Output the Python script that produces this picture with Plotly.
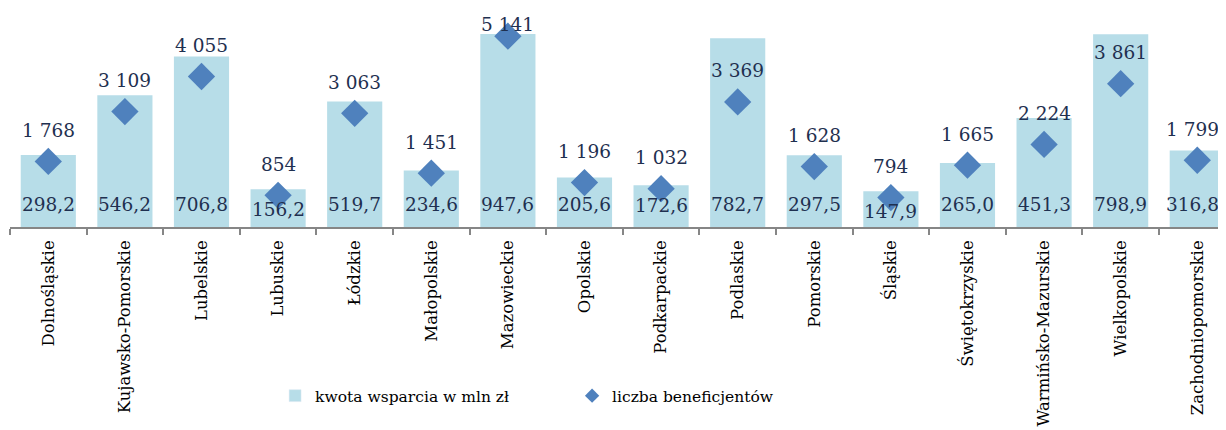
import plotly.graph_objects as go

# data
regions = ["Dolnośląskie", "Kujawsko-Pomorskie", "Lubelskie", "Lubuskie", "Łódzkie", "Małopolskie",
           "Mazowieckie", "Opolskie", "Podkarpackie", "Podlaskie", "Pomorskie", "Śląskie",
           "Świętokrzyskie", "Warmińsko-Mazurskie", "Wielkopolskie", "Zachodniopomorskie"]
kwota = [298.2, 546.2, 706.8, 156.2, 519.7, 234.6, 947.6, 205.6, 172.6, 782.7, 297.5, 147.9,
         265.0, 451.3, 798.9, 316.8]
beneficjenci = [1768, 3109, 4055, 854, 3063, 1451, 5141, 1196, 1032, 3369, 1628, 794,
                1665, 2224, 3861, 1799]

BAR_COLOR = "#B7DDE8"
DIAMOND_COLOR = "#4F81BD"
LABEL_COLOR = "#1F3050"
FONT = "DejaVu Serif"

# the page body adds an 8px margin, so the figure is 8px smaller than the window
W, H = 1218, 422
M_T, M_B = 26, 203
PLOT_H = H - M_T - M_B
Y1_MAX, Y2_MAX = 800, 5200


def fmt_pl(v, decimals=0):
    s = f"{v:,.{decimals}f}"
    return s.replace(",", " ").replace(".", ",")


fig = go.Figure()

# bars: support amount
fig.add_trace(go.Bar(x=regions, y=kwota, marker=dict(color=BAR_COLOR, line=dict(width=0)),
                     cliponaxis=True, showlegend=False, hoverinfo="skip"))

# diamonds: number of beneficiaries
fig.add_trace(go.Scatter(x=regions, y=beneficjenci, yaxis="y2", mode="markers",
                         marker=dict(symbol="diamond", size=21, color=DIAMOND_COLOR),
                         cliponaxis=False, showlegend=False, hoverinfo="skip"))

# legend entries
fig.add_trace(go.Bar(x=[None], y=[None], name="kwota wsparcia w mln zł", marker=dict(color=BAR_COLOR)))
fig.add_trace(go.Scatter(x=[None], y=[None], name="liczba beneficjentów", mode="markers", yaxis="y2",
                         marker=dict(symbol="diamond", size=11, color=DIAMOND_COLOR)))

# data labels (bar labels sit near the base, diamond labels above the marker)
label_font = dict(family=FONT, size=18.5, color=LABEL_COLOR)
for i, (reg, k, b) in enumerate(zip(regions, kwota, beneficjenci)):
    # keep the labels of the last, half-cut column inside the visible page
    xs = -5 if i == len(regions) - 1 else 0
    bar_px = min(k, Y1_MAX) * PLOT_H / Y1_MAX
    fig.add_annotation(x=reg, y=0, yref="y", text=fmt_pl(k, 1), showarrow=False, xshift=xs,
                       yanchor="middle", yshift=min(23, bar_px - 20), font=label_font)
    top_px = (Y2_MAX - b) * PLOT_H / Y2_MAX
    fig.add_annotation(x=reg, y=b, yref="y2", text=fmt_pl(b), showarrow=False, xshift=xs,
                       yanchor="middle", yshift=min(31, top_px + 10), font=label_font)

fig.update_layout(
    width=W, height=H,
    margin=dict(l=2, r=0, t=M_T, b=M_B),
    paper_bgcolor="white", plot_bgcolor="white",
    font=dict(family=FONT, color="black"),
    bargap=0.28,
    xaxis=dict(range=[-0.5, 15.375], tickangle=-90, showline=True, linecolor="#868686", linewidth=1.5,
               ticks="outside", tickson="boundaries", ticklen=6, tickcolor="#868686", tickwidth=1.5,
               ticklabelstandoff=5, automargin=False,
               tickfont=dict(family=FONT, size=16.5, color="black"), showgrid=False),
    yaxis=dict(range=[0, Y1_MAX], visible=False, showgrid=False),
    yaxis2=dict(range=[0, Y2_MAX], visible=False, overlaying="y", showgrid=False),
    legend=dict(orientation="h", x=0.218, xanchor="left", y=-0.876, yanchor="middle",
                font=dict(family=FONT, size=15.5, color="black"), entrywidth=252,
                bgcolor="rgba(0,0,0,0)"),
)

fig.write_html("out.html")
